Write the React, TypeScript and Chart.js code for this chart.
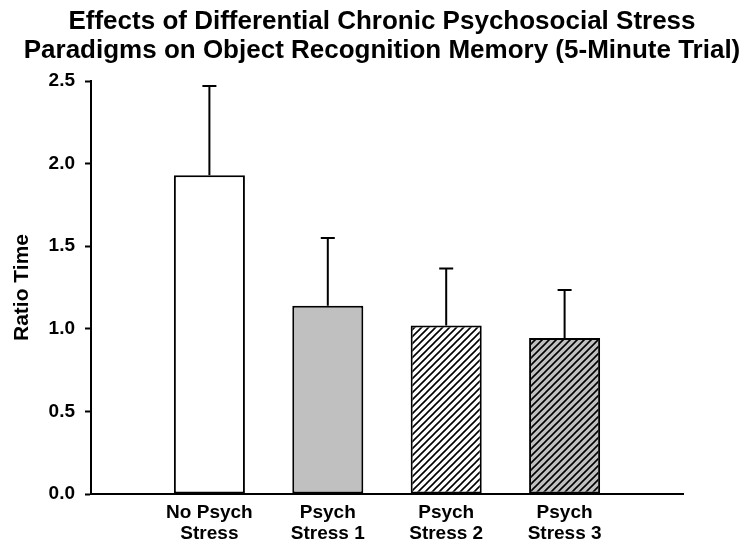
import React, { useEffect, useRef } from 'react';
import { Chart, registerables } from 'chart.js';

Chart.register(...registerables);

// ---- Data ----
const titleLines: string[] = [
  'Effects of Differential Chronic Psychosocial Stress',
  'Paradigms on Object Recognition Memory (5-Minute Trial)',
];
const yAxisTitle = 'Ratio Time';
// first and last slots are empty spacers on the category axis
const categories: (string | string[])[] = [
  '',
  ['No Psych', 'Stress'],
  ['Psych', 'Stress 1'],
  ['Psych', 'Stress 2'],
  ['Psych', 'Stress 3'],
  '',
];
const means: (number | null)[] = [null, 1.93, 1.14, 1.02, 0.945, null];
const sems: (number | null)[] = [null, 0.54, 0.41, 0.345, 0.29, null];
const yTickValues: number[] = [0, 0.5, 1.0, 1.5, 2.0, 2.5];
const fillKinds: string[] = ['none', 'white', 'gray', 'whiteHatch', 'grayHatch', 'none'];

const FONT = "'Liberation Sans', Arial, Helvetica, sans-serif";
const GRAY = '#c0c0c0';

function makeHatch(bg: string): CanvasPattern | string {
  const s = 7;
  const c = document.createElement('canvas');
  c.width = s;
  c.height = s;
  const g = c.getContext('2d');
  if (!g) return bg;
  g.fillStyle = bg;
  g.fillRect(0, 0, s, s);
  g.strokeStyle = '#000';
  g.lineWidth = 1.6;
  g.beginPath();
  g.moveTo(-1, s + 1);
  g.lineTo(s + 1, -1);
  g.moveTo(-s / 2 - 1, s / 2 + 1);
  g.lineTo(s / 2 + 1, -s / 2 - 1);
  g.moveTo(s / 2 - 1, s * 1.5 + 1);
  g.lineTo(s * 1.5 + 1, s / 2 - 1);
  g.stroke();
  const p = g.createPattern(c, 'repeat');
  return p || bg;
}

const errorBarPlugin = {
  id: 'errorBars',
  afterDatasetsDraw(chart: any) {
    const meta = chart.getDatasetMeta(0);
    const yScale = chart.scales.y;
    const ctx = chart.ctx as CanvasRenderingContext2D;
    ctx.save();
    ctx.strokeStyle = '#000';
    ctx.lineWidth = 2;
    meta.data.forEach((bar: any, i: number) => {
      const m = means[i];
      const e = sems[i];
      if (m == null || e == null) return;
      const x = bar.x;
      const yBase = yScale.getPixelForValue(m);
      const yTop = yScale.getPixelForValue(m + e);
      ctx.beginPath();
      ctx.moveTo(x, yBase);
      ctx.lineTo(x, yTop);
      ctx.moveTo(x - 7, yTop);
      ctx.lineTo(x + 7, yTop);
      ctx.stroke();
    });
    ctx.restore();
  },
};

export default function App() {
  const canvasRef = useRef<HTMLCanvasElement | null>(null);

  useEffect(() => {
    if (!canvasRef.current) return;
    const fills = fillKinds.map((k) => {
      if (k === 'white') return '#ffffff';
      if (k === 'gray') return GRAY;
      if (k === 'whiteHatch') return makeHatch('#ffffff');
      if (k === 'grayHatch') return makeHatch(GRAY);
      return 'rgba(0,0,0,0)';
    });

    const chart = new Chart(canvasRef.current, {
      type: 'bar',
      data: {
        labels: categories as any,
        datasets: [
          {
            data: means as any,
            backgroundColor: fills as any,
            borderColor: '#000',
            borderWidth: 2,
            borderSkipped: false,
            categoryPercentage: 1,
            barPercentage: 0.6,
          },
        ],
      },
      options: {
        animation: false,
        responsive: true,
        maintainAspectRatio: false,
        layout: { padding: { left: 18, right: 0, top: 0, bottom: 0 } },
        plugins: {
          legend: { display: false },
          tooltip: { enabled: false },
          title: {
            display: true,
            text: titleLines,
            color: '#000',
            font: { family: FONT, size: 26, weight: 'bold', lineHeight: 29 / 26 },
            padding: { top: 7.8, bottom: 15.2 },
          },
        },
        scales: {
          x: {
            type: 'category',
            offset: false,
            grid: { display: false, drawTicks: false, drawOnChartArea: false },
            border: { display: true, color: '#000', width: 2 },
            ticks: {
              color: '#000',
              font: { family: FONT, size: 19, weight: 'bold', lineHeight: 1.12 },
              padding: 8,
              maxRotation: 0,
              minRotation: 0,
              autoSkip: false,
            },
            afterFit: (s: any) => {
              s.height = 49;
            },
          },
          y: {
            type: 'linear',
            position: 'left',
            min: 0,
            max: 2.5,
            grid: {
              display: true,
              drawOnChartArea: false,
              drawTicks: true,
              tickLength: 6,
              tickWidth: 2,
              tickColor: '#000',
              color: '#000',
            },
            border: { display: true, color: '#000', width: 2 },
            ticks: {
              color: '#000',
              font: { family: FONT, size: 19, weight: 'bold' },
              padding: 10,
              callback: (v: any) => Number(v).toFixed(1),
            },
            afterBuildTicks: (s: any) => {
              s.ticks = yTickValues.map((v) => ({ value: v }));
            },
            title: {
              display: true,
              text: yAxisTitle,
              color: '#000',
              font: { family: FONT, size: 21, weight: 'bold', lineHeight: 1 },
              padding: { top: -6.5, bottom: 0 },
            },
            afterFit: (s: any) => {
              s.width = 73;
            },
          },
          yR: {
            type: 'linear',
            position: 'right',
            display: true,
            grid: { display: false, drawTicks: false, drawOnChartArea: false },
            border: { display: false },
            ticks: { display: false },
            afterFit: (s: any) => {
              s.width = 63;
            },
          },
        },
      } as any,
      plugins: [errorBarPlugin],
    });

    return () => {
      chart.destroy();
    };
  }, []);

  return (
    <div
      style={{
        position: 'fixed',
        left: 0,
        top: 0,
        width: '746px',
        height: '543px',
        background: '#fff',
      }}
    >
      <canvas ref={canvasRef} />
    </div>
  );
}
